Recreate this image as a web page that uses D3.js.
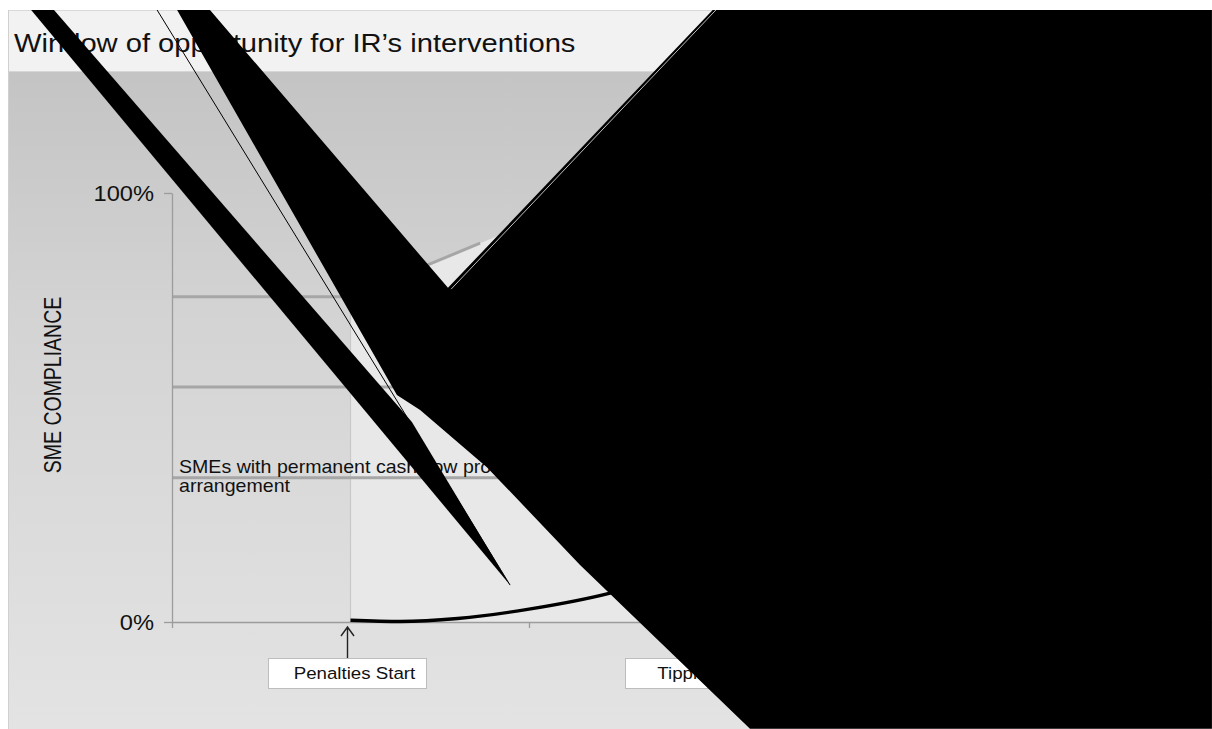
<!DOCTYPE html>
<html>
<head>
<meta charset="utf-8">
<script src="https://cdn.jsdelivr.net/npm/d3@7"></script>
<style>
  body { margin: 0; background: #fff; }
  svg { display: block; }
  text { font-family: "Liberation Sans", Arial, sans-serif; fill: #111; }
</style>
</head>
<body>
<svg id="chart"></svg>
<script>
//DATA
const title = "Window of opportunity for IR\u2019s interventions";
const yLabel = "SME COMPLIANCE";
const yTicks = [0, 100];
const xTicks = [0, 1, 2];
const topLevel = [[0, 75.8], [0.5, 75.8], [0.863, 88.3]];
const flatLevels = [54.8, 33.6];
const complianceCurve = [[0.5, 0.4], [0.64, 0.1], [0.8, 0.8], [1.0, 3.0], [1.23, 6.8], [1.5, 14], [1.8, 30], [2.1, 55], [2.4, 75]];
const markers = [{ x: 0.5, label: "Penalties Start" }, { x: 1.5, label: "Tipping Point" }];
const noteLines = ["SMEs with permanent cash flow problems in", "arrangement"];

// broken black shapes that cover the original picture (data units)
const blotStripe = [[-0.395, 142.7], [-0.331, 142.7], [0.672, 46.6], [0.947, 8.6]];
const blotMass = [[0.014, 142.7], [0.106, 142.7], [0.773, 77.9], [1.515, 142.7], [2.913, 142.7],
  [2.913, -24.9], [1.619, -24.9], [1.143, 13.3], [0.882, 36.1], [0.695, 49.4], [0.63, 52.9]];
const blotLine = [[-0.042, 142.7], [0.947, 8.6]];
const blotEdge = [[1.524, 142.7], [0.782, 77.6]];

const width = 1212;
const height = 729;
const SX = 1.1; // the original text is a little stretched sideways

const svg = d3.select("#chart").attr("width", width).attr("height", height);

const x = d3.scaleLinear().domain([0, 3]).range([172, 1243]);
const y = d3.scaleLinear().domain([0, 100]).range([622, 193]);

const defs = svg.append("defs");
const grad = defs.append("linearGradient").attr("id", "bg").attr("x1", 0).attr("y1", 0).attr("x2", 0).attr("y2", 1);
grad.append("stop").attr("offset", 0).attr("stop-color", "#c4c4c4");
grad.append("stop").attr("offset", 0.35).attr("stop-color", "#d4d4d4");
grad.append("stop").attr("offset", 1).attr("stop-color", "#e6e6e6");
defs.append("clipPath").attr("id", "frame").append("rect")
  .attr("x", 8).attr("y", 10).attr("width", width - 8).attr("height", height - 10);

const g = svg.append("g").attr("clip-path", "url(#frame)");

function stretched(sel, px, py, str, size, anchor) {
  return sel.append("text")
    .attr("transform", `translate(${px},${py}) scale(${SX},1)`)
    .attr("font-size", size)
    .attr("text-anchor", anchor || "start")
    .text(str);
}

// BACKGROUND
g.append("rect").attr("x", 8).attr("y", 71).attr("width", width).attr("height", height)
  .attr("fill", "url(#bg)");
g.append("rect").attr("x", 8).attr("y", 10).attr("width", width).attr("height", 61)
  .attr("fill", "#f2f2f2");
g.append("line").attr("x1", 8).attr("x2", width).attr("y1", 71.5).attr("y2", 71.5)
  .attr("stroke", "#d6d6d6");
g.append("line").attr("x1", 8).attr("x2", width).attr("y1", 10.5).attr("y2", 10.5)
  .attr("stroke", "#d9d9d9");
g.append("line").attr("x1", 8.5).attr("x2", 8.5).attr("y1", 10).attr("y2", height)
  .attr("stroke", "#d0d0d0");

stretched(g, 14, 52, title, 26.5);

// light area after penalties start
const lightTop = topLevel.filter((d) => d[0] >= 0.5).concat([[1.2, 100], [3, 100]]);
g.append("path")
  .datum(lightTop)
  .attr("fill", "#e8e8e8")
  .attr("d", d3.area().x((d) => x(d[0])).y0(y(0)).y1((d) => y(d[1])));

g.append("line")
  .attr("x1", x(markers[0].x)).attr("x2", x(markers[0].x))
  .attr("y1", y(topLevel[1][1])).attr("y2", y(0))
  .attr("stroke", "#c8c8c8").attr("stroke-width", 1.2);

// LEVEL LINES
g.append("path")
  .datum(topLevel)
  .attr("fill", "none").attr("stroke", "#a6a6a6").attr("stroke-width", 3)
  .attr("d", d3.line().x((d) => x(d[0])).y((d) => y(d[1])));
g.selectAll(".level")
  .data(flatLevels)
  .enter()
  .append("line")
  .attr("class", "level")
  .attr("x1", x(0)).attr("x2", x(3))
  .attr("y1", (d) => y(d)).attr("y2", (d) => y(d))
  .attr("stroke", "#a6a6a6").attr("stroke-width", 3);

// AXES
const yAxis = g.append("g").attr("transform", `translate(${x(0)},0)`)
  .call(d3.axisLeft(y).tickValues(yTicks).tickSize(8).tickSizeOuter(0).tickFormat(""));
const xAxis = g.append("g").attr("transform", `translate(0,${y(0)})`)
  .call(d3.axisBottom(x).tickValues(xTicks).tickSize(6).tickSizeOuter(0).tickFormat(""));
[yAxis, xAxis].forEach((a) => {
  a.selectAll("path, line").attr("stroke", "#9c9c9c").attr("stroke-width", 1.3);
});
yTicks.forEach((t) => stretched(g, 154, y(t) + 7.5, t + "%", 21.5, "end"));

g.append("text")
  .attr("transform", `translate(61,385) scale(${SX + 0.1},1) rotate(-90)`)
  .attr("font-size", 19.5)
  .attr("text-anchor", "middle")
  .text(yLabel);

noteLines.forEach((s, i) => stretched(g, 179, 473 + i * 19, s, 17.8));

// CURVE
g.append("path")
  .datum(complianceCurve)
  .attr("fill", "none").attr("stroke", "#000").attr("stroke-width", 3.4)
  .attr("d", d3.line().curve(d3.curveMonotoneX).x((d) => x(d[0])).y((d) => y(d[1])));

// MARKERS
const mk = g.selectAll(".marker").data(markers).enter().append("g").attr("class", "marker");
mk.append("rect")
  .attr("x", (d) => x(d.x) - 82).attr("y", 658.5)
  .attr("width", 158).attr("height", 30)
  .attr("fill", "#fff").attr("stroke", "#bdbdbd");
mk.append("path")
  .attr("fill", "none").attr("stroke", "#222").attr("stroke-width", 1.4)
  .attr("d", (d) => {
    const px = x(d.x) - 3;
    return `M${px},658 V627 M${px - 6.5},636 L${px},627 L${px + 6.5},636`;
  });
mk.each(function (d) {
  stretched(d3.select(this), x(d.x) + 4, 679, d.label, 17, "middle");
});

// BLACK SHAPES
const shape = d3.line().curve(d3.curveLinearClosed).x((d) => x(d[0])).y((d) => y(d[1]));
g.append("path").datum(blotStripe).attr("fill", "#000").attr("d", shape);
g.append("path").datum(blotMass).attr("fill", "#000").attr("d", shape);
g.append("path").datum(blotLine)
  .attr("fill", "none").attr("stroke", "#000").attr("stroke-width", 1)
  .attr("d", d3.line().x((d) => x(d[0])).y((d) => y(d[1])));
g.append("path").datum(blotEdge)
  .attr("fill", "none").attr("stroke", "#bdbdbd").attr("stroke-width", 1)
  .attr("d", d3.line().x((d) => x(d[0])).y((d) => y(d[1])));
</script>
</body>
</html>
